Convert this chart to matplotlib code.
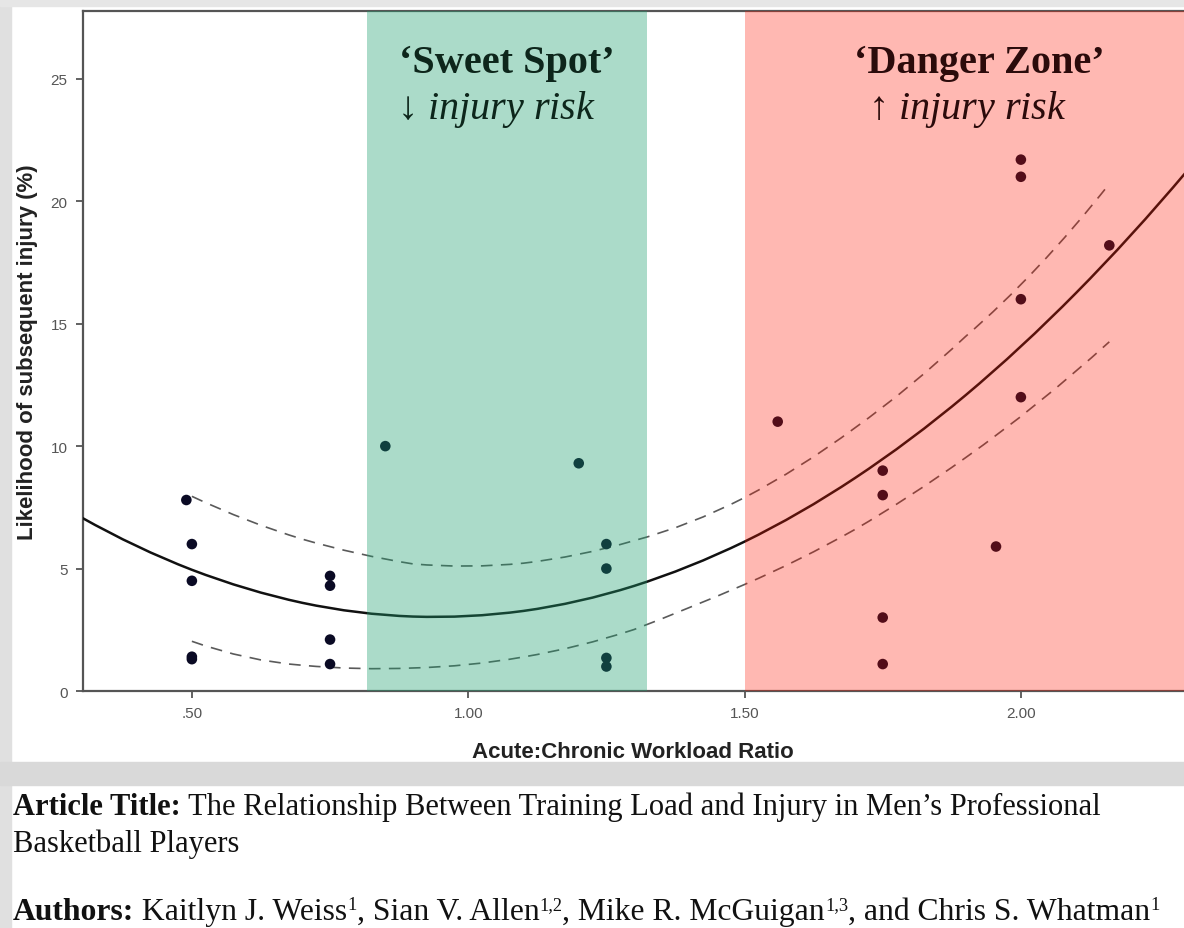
import matplotlib.pyplot as plt
import matplotlib.transforms as mtransforms
from matplotlib.patches import Rectangle, PathPatch
from matplotlib.path import Path

plt.rcParams['mathtext.fontset'] = 'custom'
plt.rcParams['mathtext.rm'] = 'Liberation Serif'
plt.rcParams['mathtext.it'] = 'Liberation Serif:italic'

W, H = 1184, 929

# scatter points
ratio = [0.49, 0.50, 0.50, 0.50, 0.50, 0.75, 0.75, 0.75, 0.75, 0.85, 1.20,
         1.25, 1.25, 1.25, 1.25, 1.56, 1.75, 1.75, 1.75, 1.75, 1.955,
         2.00, 2.00, 2.00, 2.00, 2.16]
injury = [7.8, 6.0, 4.5, 1.4, 1.3, 4.7, 4.3, 2.1, 1.1, 10.0, 9.3,
          6.0, 5.0, 1.35, 1.0, 11.0, 9.0, 8.0, 3.0, 1.1, 5.9,
          21.7, 21.0, 16.0, 12.0, 18.2]

# quadratic fit line (solid)
fit_x = [0.30, 0.40, 0.50, 0.60, 0.70, 0.80, 0.90, 1.00, 1.10, 1.20, 1.30,
         1.40, 1.50, 1.60, 1.70, 1.80, 1.90, 2.00, 2.10, 2.20, 2.30]
fit_y = [7.09, 5.92, 4.95, 4.18, 3.60, 3.22, 3.04, 3.06, 3.27, 3.68, 4.29,
         5.10, 6.10, 7.30, 8.70, 10.29, 12.08, 14.07, 16.26, 18.64, 21.22]

# 95% CI (dashed)
ci_x = [0.50, 0.60, 0.70, 0.80, 0.90, 1.00, 1.10, 1.20, 1.30, 1.40,
        1.50, 1.60, 1.70, 1.80, 1.90, 2.03, 2.16]
ci_upper = [7.95, 6.98, 6.20, 5.62, 5.19, 5.10, 5.22, 5.58, 6.14, 6.88,
            7.90, 9.20, 10.75, 12.49, 14.48, 17.30, 20.71]
ci_lower = [2.03, 1.38, 1.05, 0.92, 0.94, 1.08, 1.39, 1.86, 2.51, 3.40,
            4.35, 5.40, 6.60, 7.99, 9.53, 11.75, 14.26]

sweet_spot = (0.817, 1.324)
danger_zone = (1.50, 2.40)

x_ticks = [0.5, 1.0, 1.5, 2.0]
x_tick_labels = ['.50', '1.00', '1.50', '2.00']
y_ticks = [0, 5, 10, 15, 20, 25]


def fx(x):
    return x / W


def fy(y):
    return 1 - y / H


def smooth_path(xs, ys):
    # chain of quadratic bezier pieces through every point triple
    verts = [(xs[0], ys[0])]
    codes = [Path.MOVETO]
    for i in range(0, len(xs) - 2, 2):
        y0, y1, y2 = ys[i:i + 3]
        verts += [(xs[i + 1], 2 * y1 - (y0 + y2) / 2), (xs[i + 2], y2)]
        codes += [Path.CURVE3, Path.CURVE3]
    return Path(verts, codes)


fig = plt.figure(figsize=(W / 100, H / 100), dpi=100)
fig.patch.set_facecolor('white')

# screenshot frame bits
fig.add_artist(Rectangle((0, 0), fx(11), 1, transform=fig.transFigure,
                         color='#e0e0e0', zorder=0))
fig.add_artist(Rectangle((0, fy(7)), 1, 7 / H, transform=fig.transFigure,
                         color='#e6e6e6', zorder=0))
fig.add_artist(Rectangle((0, fy(786)), 1, 23 / H, transform=fig.transFigure,
                         color='#d9d9d9', zorder=0))

ax = fig.add_axes([fx(83), fy(692), fx(1190 - 83), 680 / H])
ax.set_facecolor('none')

ax.add_patch(PathPatch(smooth_path(fit_x, fit_y), fill=False,
                       edgecolor='#111111', lw=1.8, zorder=3))
for ci in (ci_upper, ci_lower):
    ax.add_patch(PathPatch(smooth_path(ci_x, ci), fill=False,
                           edgecolor='#5a5a5a', lw=1.2,
                           linestyle=(0, (7, 5)), zorder=3))
ax.scatter(ratio, injury, s=58, color='#0a0a24', edgecolor='none', zorder=4)

# tinted zones laid over the points so they take the colour
ax.axvspan(*sweet_spot, color=(0.11, 0.62, 0.43), alpha=0.37, lw=0, zorder=5)
ax.axvspan(*danger_zone, color=(1.0, 0.083, 0.0), alpha=0.3, lw=0, zorder=5)

ax.set_xlim(0.303, 2.306)
ax.set_ylim(0, 27.77)
ax.set_xticks(x_ticks)
ax.set_xticklabels(x_tick_labels)
ax.set_yticks(y_ticks)
ax.tick_params(direction='out', length=5, width=1.3, color='#555555',
               labelsize=11, labelcolor='#555555', pad=6)
for lab in ax.get_xticklabels() + ax.get_yticklabels():
    lab.set_family('Liberation Sans')

for side in ['left', 'bottom', 'top']:
    ax.spines[side].set_color('#555555')
    ax.spines[side].set_linewidth(1.6)
ax.spines['right'].set_visible(False)

# zone captions
trans = mtransforms.blended_transform_factory(ax.transData, fig.transFigure)
serif = ['Liberation Serif', 'DejaVu Serif']
ax.text(sum(sweet_spot) / 2, fy(64), '\u2018Sweet Spot\u2019', transform=trans,
        ha='center', va='center', fontsize=29, fontweight='bold',
        family=serif, color='#0d261b', zorder=7)
ax.text(sum(sweet_spot) / 2 - 0.02, fy(110), '\u2193 $\\mathit{injury\\ risk}$',
        transform=trans, ha='center', va='center', fontsize=29,
        family=serif, color='#0d261b', zorder=7)
ax.text(1.924, fy(64), '\u2018Danger Zone\u2019', transform=trans,
        ha='center', va='center', fontsize=29, fontweight='bold',
        family=serif, color='#2b0b0b', zorder=7)
ax.text(1.904, fy(110), '\u2191 $\\mathit{injury\\ risk}$', transform=trans,
        ha='center', va='center', fontsize=29, family=serif,
        color='#2b0b0b', zorder=7)

fig.text(fx(28), fy(352), 'Likelihood of subsequent injury (%)', rotation=90,
         ha='center', va='center', fontsize=16, fontweight='bold',
         family='Liberation Sans', color='#222222')
fig.text(fx(633), fy(752), 'Acute:Chronic Workload Ratio', ha='center',
         va='center', fontsize=16, fontweight='bold',
         family='Liberation Sans', color='#222222')

# article caption, drawn run by run
renderer = fig.canvas.get_renderer()


def draw_runs(runs, x0, y0, size=22):
    x = x0
    for s, weight, sup in runs:
        fs = size * 0.58 if sup else size
        yy = y0 - 10 if sup else y0
        t = fig.text(fx(x), fy(yy), s, fontsize=fs, fontweight=weight,
                     family='Liberation Serif', color='#111111',
                     ha='left', va='baseline')
        x += t.get_window_extent(renderer).width


draw_runs([('Article Title:', 'bold', False),
           (" The Relationship Between Training Load and Injury in Men\u2019s Professional", 'normal', False)],
          13, 815)
draw_runs([('Basketball Players', 'normal', False)], 13, 852)
draw_runs([('Authors:', 'bold', False),
           (' Kaitlyn J. Weiss', 'normal', False), ('1', 'normal', True),
           (', Sian V. Allen', 'normal', False), ('1,2', 'normal', True),
           (', Mike R. McGuigan', 'normal', False), ('1,3', 'normal', True),
           (', and Chris S. Whatman', 'normal', False), ('1', 'normal', True)],
          13, 920, size=22.8)

fig.savefig('out.png', dpi=100)
